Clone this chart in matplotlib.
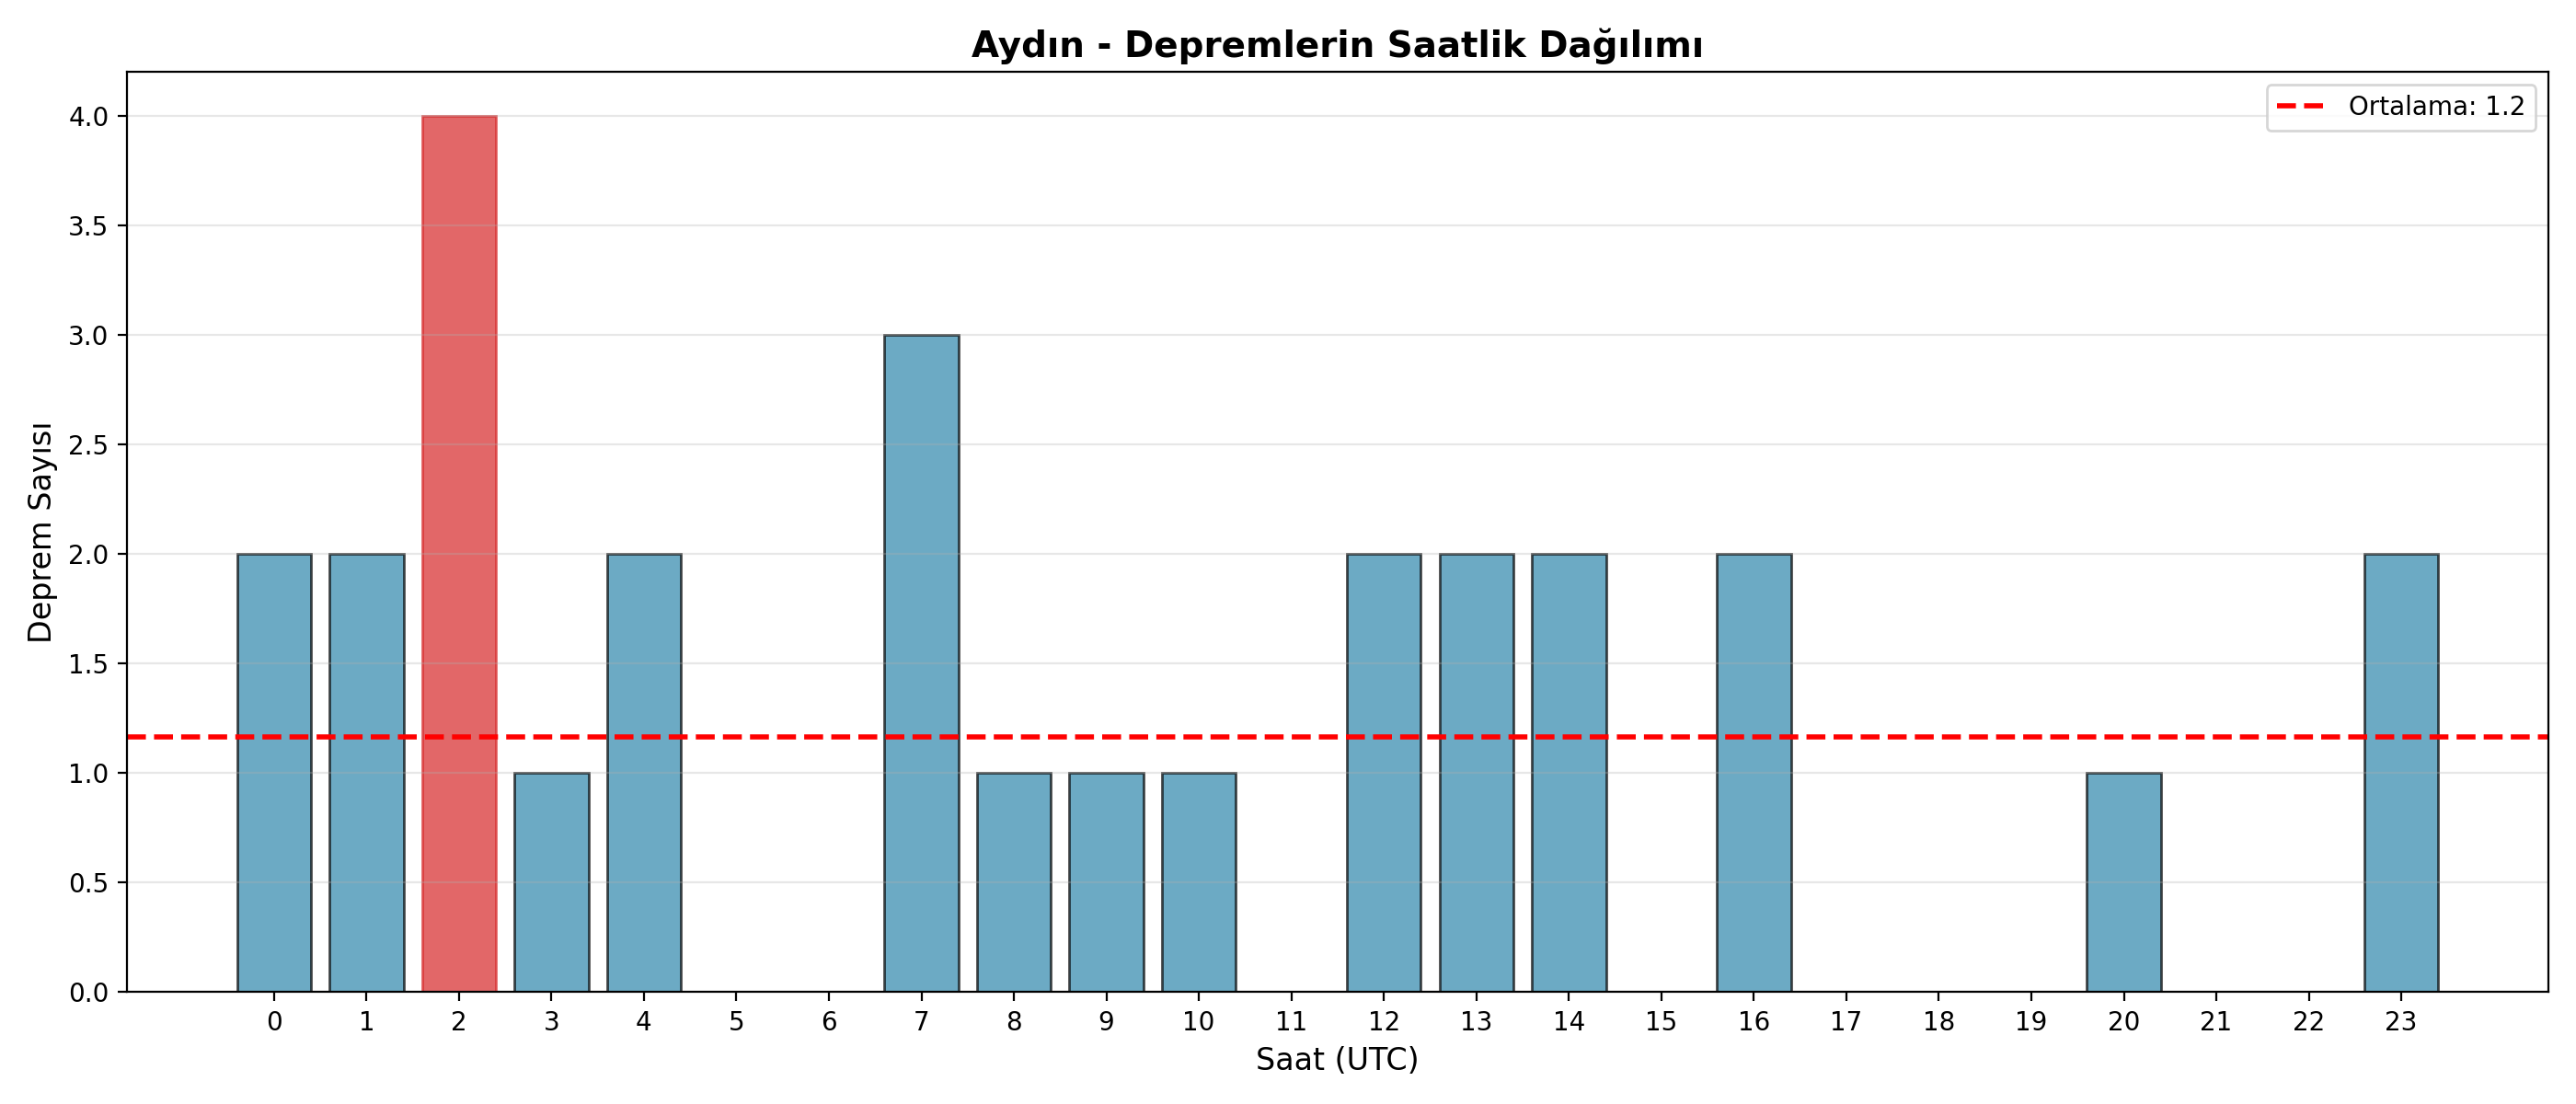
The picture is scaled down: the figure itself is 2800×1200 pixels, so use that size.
import numpy as np
import matplotlib
matplotlib.use('Agg')
import matplotlib.pyplot as plt

# hourly counts
hours = list(range(24))
counts = [2, 2, 4, 1, 2, 0, 0, 3, 1, 1, 1, 0, 2, 2, 2, 0, 2, 0, 0, 0, 1, 0, 0, 2]

mean_val = np.mean(counts)

fig, ax = plt.subplots(figsize=(14, 6), dpi=200)
bars = ax.bar(hours, counts, color='#2E86AB', alpha=0.7, edgecolor='black', linewidth=1)

# highlight the busiest hour
max_idx = int(np.argmax(counts))
bars[max_idx].set_color('#d62728')

ax.axhline(mean_val, color='red', linestyle='--', linewidth=2, label=f'Ortalama: {mean_val:.1f}')

ax.set_title('Aydın - Depremlerin Saatlik Dağılımı', fontsize=14, fontweight='bold')
ax.set_xlabel('Saat (UTC)', fontsize=12)
ax.set_ylabel('Deprem Sayısı', fontsize=12)
ax.set_xticks(hours)
ax.legend()
ax.grid(axis='y', alpha=0.3)

plt.tight_layout()
plt.savefig('out.png', dpi=200)
